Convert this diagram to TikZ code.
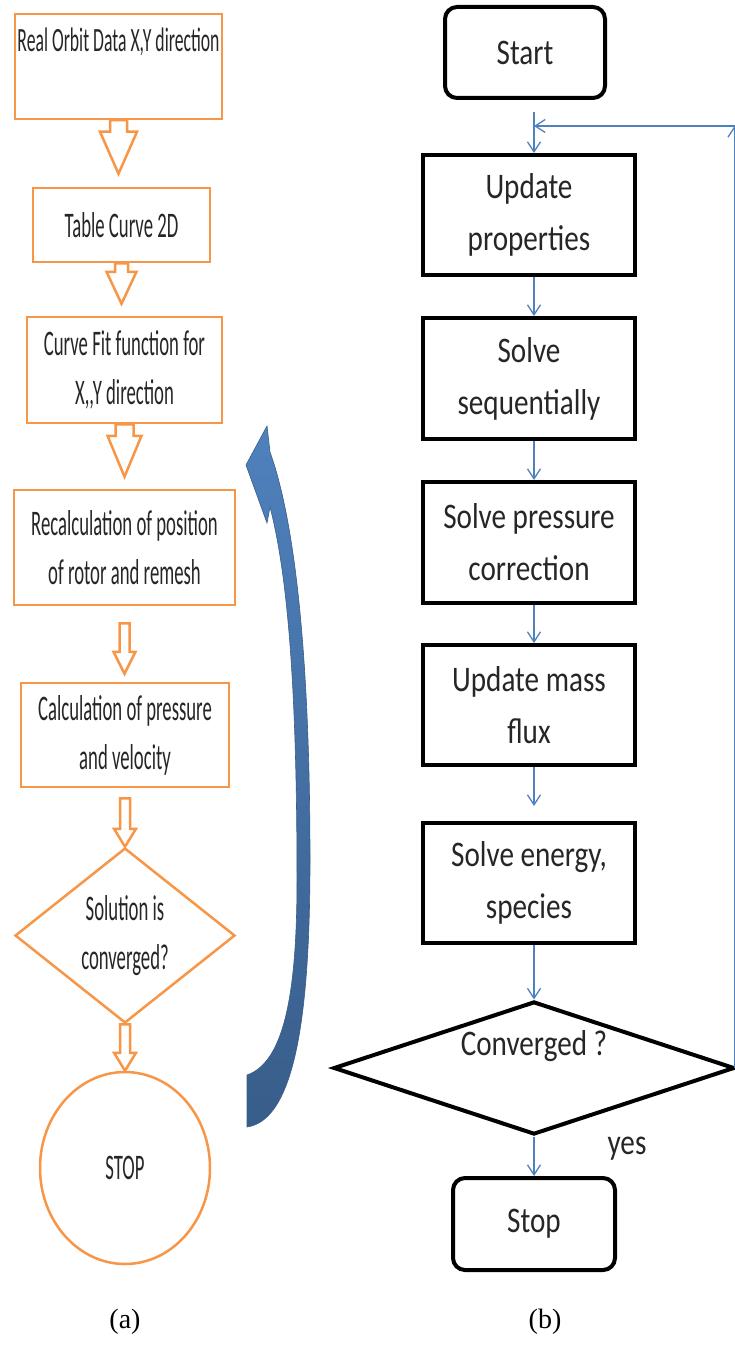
\documentclass[tikz,border=0pt]{standalone}
\usepackage{fontspec}
\usepackage{tikz}
\usetikzlibrary{shapes.geometric,arrows.meta,calc}
\setmainfont{Liberation Serif}
\newfontfamily\narrowfont[FakeStretch=0.52]{Carlito}
\newfontfamily\boxfont[FakeStretch=0.81]{Carlito}
\definecolor{orangeline}{RGB}{247,150,70}
\definecolor{flowblue}{RGB}{79,129,189}
\definecolor{darkblue}{RGB}{56,93,138}

\newcommand{\hollowarrow}[5]{%
  \draw[orangeline,line width=2.5pt,line join=miter,fill=white] let \p1=(#1), \p2=(#2) in
    (\x1-#3pt,\y1) -- (\x1-#3pt,\y2+#5pt) -- (\x1-#4pt,\y2+#5pt) -- (\x1,\y2)
    -- (\x1+#4pt,\y2+#5pt) -- (\x1+#3pt,\y2+#5pt) -- (\x1+#3pt,\y1) -- cycle;}

\begin{document}
\begin{tikzpicture}[x=1pt,y=-1pt,
    obox/.style={draw=orangeline,line width=2.5pt,fill=white,align=center,inner sep=0pt,text=black!85,font=\narrowfont\fontsize{36}{49}\selectfont},
    odiam/.style={obox,diamond},
    oell/.style={obox,ellipse},
    bbox/.style={draw=black,line width=4pt,align=center,inner sep=0pt,text=black!85,font=\boxfont\fontsize{36}{52}\selectfont},
    bround/.style={bbox,rounded corners=12pt},
    bdiam/.style={bbox,diamond,aspect=3},
    flow/.style={draw=flowblue,line width=1.3pt,-{Straight Barb[length=10pt,width=13pt]}}]
    \useasboundingbox (0,0) rectangle (734,1348);

    \node[obox,minimum width=207pt,text height=38pt,text depth=67pt,anchor=base,font=\narrowfont\fontsize{34}{40}\selectfont] (orbit) at (118.5,52) {Real Orbit Data X,Y direction};
    \node[obox,minimum width=177pt,minimum height=74pt] (table) at (121.5,225) {Table Curve 2D};
    \node[obox,minimum width=195pt,minimum height=106pt] (curvefit) at (124.5,370) {Curve Fit function for\\X,{},Y direction};
    \node[obox,minimum width=221pt,minimum height=115pt] (recalc) at (124.5,547.5) {Recalculation of position\\of rotor and remesh};
    \node[obox,minimum width=208pt,minimum height=104pt] (calc) at (125,735) {Calculation of pressure\\and velocity};
    \node[odiam,minimum width=220pt,minimum height=175pt] (solved) at (125,935.5) {Solution is\\converged?};
    \node[oell,minimum width=170pt,minimum height=192pt] (stop) at (125,1168) {STOP};

    \hollowarrow{orbit.south}{[yshift=13pt]table.north}{8.5}{18.5}{42}
    \hollowarrow{table.south}{[yshift=12pt]curvefit.north}{6.5}{15}{32}
    \hollowarrow{curvefit.south}{[yshift=12pt]recalc.north}{9}{17}{41}
    \hollowarrow{[yshift=-17pt]recalc.south}{[yshift=8pt]calc.north}{5}{11}{22}
    \hollowarrow{[yshift=-10pt]calc.south}{solved.north}{5}{11}{18}
    \hollowarrow{solved.south}{stop.north}{5}{11}{18}

    \draw[draw=darkblue,line width=0.6pt,top color=flowblue,bottom color=darkblue]
      (247,1127) -- (247,1075) .. controls (285,1062) and (297,990) .. (297,880)
      .. controls (297,700) and (289,580) .. (270,507) -- (267,523) -- (246,465) -- (267,426) -- (270,452)
      .. controls (298,530) and (310,680) .. (310,860) .. controls (310,1010) and (296,1120) .. (247,1127) -- cycle;

    \node[bround,minimum width=160pt,minimum height=91pt] (start) at (525,52.5) {Start};
    \node[bbox,minimum width=212pt,minimum height=120pt] (update) at (529,215) {Update\\properties};
    \node[bbox,minimum width=212pt,minimum height=121pt] (sequential) at (529,378.5) {Solve\\sequentially};
    \node[bbox,minimum width=212pt,minimum height=121pt] (pressure) at (529,542.5) {Solve pressure\\correction};
    \node[bbox,minimum width=212pt,minimum height=120pt] (massflux) at (529,705) {Update mass\\flux};
    \node[bbox,minimum width=212pt,minimum height=120pt] (energy) at (529,883) {Solve energy,\\species};
    \node[bdiam,minimum width=401pt,minimum height=133pt,text height=24pt,text depth=50pt] (converged) at (534,1068) {Converged ?};
    \node[bround,minimum width=162pt,minimum height=92pt] (stopb) at (534,1224) {Stop};
    \node[font=\boxfont\fontsize{36}{40}\selectfont,text=black!85] (yes) at (627,1149) {yes};

    \node[font=\fontsize{28}{32}\selectfont] (capa) at (125,1322) {(a)};
    \node[font=\fontsize{28}{32}\selectfont] (capb) at (545,1322) {(b)};

    \coordinate (entry) at (534,112);
    \coordinate (loopin) at (534,126);
    \coordinate (corner) at (734.5,126);

    \draw[flow] (entry) -- (entry |- update.north);
    \draw[flow] (corner |- converged.east) -- (corner);
    \draw[flow] (corner) -- (loopin);
    \draw[flow] (update.south -| entry) -- (sequential.north -| entry);
    \draw[flow] (sequential.south -| entry) -- (pressure.north -| entry);
    \draw[flow] (pressure.south -| entry) -- (massflux.north -| entry);
    \draw[flow,shorten >=15pt] (massflux.south -| entry) -- (energy.north -| entry);
    \draw[flow] (energy.south -| entry) -- (converged.north);
    \draw[flow] (converged.south) -- (stopb.north);
\end{tikzpicture}
\end{document}
